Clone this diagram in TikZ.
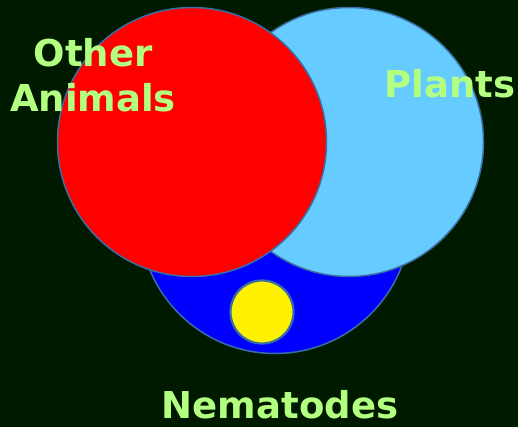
\documentclass[tikz,border=0pt]{standalone}
\usepackage{fontspec}
\setmainfont{DejaVu Sans}
\definecolor{bg}{HTML}{001A00}
\definecolor{lbl}{HTML}{B3FF80}
\definecolor{edge}{HTML}{3A6EA5}
\definecolor{skyc}{HTML}{66CCFF}
\begin{document}
\begin{tikzpicture}[x=1pt,y=-1pt,
  setc/.style={circle,draw=edge,line width=1.5pt,inner sep=0pt,minimum size=#1},
  lab/.style={text=lbl,font=\fontsize{37}{45}\selectfont\bfseries,anchor=base,align=center,inner sep=0pt}]
\fill[bg] (0,0) rectangle (518,427);
\useasboundingbox (0,0) rectangle (518,427);
\node[setc=271pt,fill=blue] (nem) at (275,218) {};
\node[setc=269pt,fill=skyc] (pl) at (349,142) {};
\node[setc=269pt,fill=red] (an) at (192,142) {};
\node[setc=63pt,fill=yellow,line width=2.2pt] (y) at (262,312) {};
\node[lab] (t1) at (93,67) {Other};
\node[lab] (t2) at (93,112) {Animals};
\node[lab] (t3) at (450,98) {Plants};
\node[lab] (t4) at (280,418) {Nematodes};
\end{tikzpicture}
\end{document}
